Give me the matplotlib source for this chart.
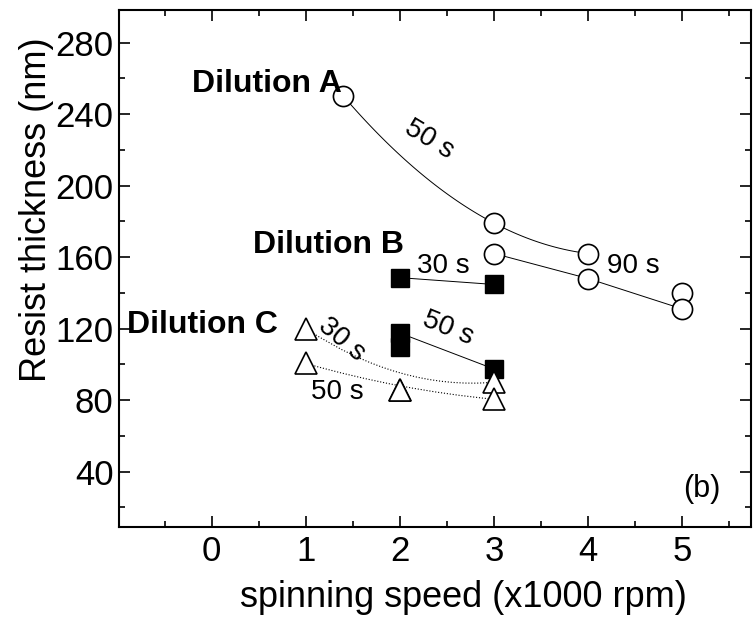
import numpy as np
import matplotlib
matplotlib.use("Agg")
import matplotlib.pyplot as plt
from matplotlib.ticker import MultipleLocator
from matplotlib.path import Path
from matplotlib.patches import PathPatch

plt.rcParams['font.family'] = ['Liberation Sans', 'DejaVu Sans']

# Dilution A (open circles), thickness in nm vs speed in 1000 rpm
a50_speed = [1.4, 3, 4, 5]
a50_thick = [250, 179, 162, 140]
a90_speed = [3, 4, 5]
a90_thick = [162, 148, 131]

# Dilution B (filled squares)
b30_speed = [2, 3]
b30_thick = [148.5, 144.7]
b50_speed = [2, 2, 3]
b50_thick = [117.5, 110, 97.4]

# Dilution C (open triangles)
c30_speed = [1, 2, 3]
c30_thick = [120, 85.5, 90]
c50_speed = [1, 2, 3]
c50_thick = [100.5, 85.5, 80.5]

xticks = [0, 1, 2, 3, 4, 5]
yticks = [40, 80, 120, 160, 200, 240, 280]


def smooth(x, y, n=100):
    # quadratic curve through the points
    xs = np.linspace(x[0], x[-1], n)
    return xs, np.polyval(np.polyfit(x, y, len(x) - 1), xs)


def bspline(ax, x, y, **kw):
    # 3-point B-spline (quadratic bezier) like Origin's spline connection
    path = Path(list(zip(x, y)), [Path.MOVETO, Path.CURVE3, Path.CURVE3])
    ax.add_patch(PathPatch(path, fill=False, **kw))


fig = plt.figure(figsize=(7.53, 6.24), dpi=100)
ax = fig.add_axes([0.1574, 0.1562, 0.840, 0.8277])

# connecting lines
ax.plot(*smooth(a50_speed[:3], a50_thick[:3]), color='black', lw=0.7, zorder=1)
ax.plot(a90_speed, a90_thick, color='black', lw=0.7, zorder=1)
ax.plot(b30_speed, b30_thick, color='black', lw=0.7, zorder=1)
ax.plot([b50_speed[0], b50_speed[2]], [b50_thick[0], b50_thick[2]], color='black', lw=0.7, zorder=1)
bspline(ax, c30_speed, c30_thick, edgecolor='black', lw=0.8, ls=':', zorder=1)
bspline(ax, c50_speed, c50_thick, edgecolor='black', lw=0.8, ls=':', zorder=1)

# markers
circ = dict(ls='none', marker='o', ms=14.5, mfc='white', mec='black', mew=1.2, zorder=3)
ax.plot(a50_speed, a50_thick, **circ)
ax.plot(a90_speed, a90_thick, **circ)
sq = dict(ls='none', marker='s', ms=12.5, mfc='black', mec='black', zorder=3)
ax.plot(b30_speed, b30_thick, **sq)
ax.plot(b50_speed, b50_thick, **sq)
tri = dict(ls='none', marker='^', ms=16, mfc='white', mec='black', mew=1.2, zorder=4)
ax.plot(c30_speed, c30_thick, **tri)
ax.plot(c50_speed, c50_thick, **tri)

# annotations
ax.text(1.38, 257, 'Dilution A', fontsize=23, fontweight='bold', ha='right', va='center')
ax.text(2.04, 167, 'Dilution B', fontsize=23, fontweight='bold', ha='right', va='center')
ax.text(0.70, 122, 'Dilution C', fontsize=23, fontweight='bold', ha='right', va='center')
ax.text(2.31, 226, '50 s', fontsize=20, rotation=-31, ha='center', va='center')
ax.text(4.48, 155, '90 s', fontsize=20, ha='center', va='center')
ax.text(2.46, 155, '30 s', fontsize=20, ha='center', va='center')
ax.text(2.51, 120, '50 s', fontsize=20, rotation=-22, ha='center', va='center')
ax.text(1.38, 114, '30 s', fontsize=20, rotation=-40, ha='center', va='center')
ax.text(1.33, 84.5, '50 s', fontsize=20, ha='center', va='center')
ax.text(5.21, 30.5, '(b)', fontsize=22, ha='center', va='center')

ax.set_xlim(-0.99, 5.73)
ax.set_ylim(9.3, 298.2)
ax.set_xticks(xticks)
ax.set_yticks(yticks)
ax.xaxis.set_minor_locator(MultipleLocator(0.5))
ax.yaxis.set_minor_locator(MultipleLocator(20))
ax.tick_params(which='both', direction='in', top=True, right=True, width=1.2)
ax.tick_params(which='major', length=8)
ax.tick_params(which='minor', length=4)
ax.tick_params(axis='x', labelsize=25, pad=6)
ax.tick_params(axis='y', labelsize=25, pad=3.5)
for s in ax.spines.values():
    s.set_linewidth(1.5)

ax.set_xlabel('spinning speed (x1000 rpm)', fontsize=26, va='center')
ax.set_ylabel('Resist thickness (nm)', fontsize=26, va='center')
ax.xaxis.set_label_coords(0.546, -0.138)
ax.yaxis.set_label_coords(-0.129, 0.613)

fig.savefig('out.png', dpi=100)
